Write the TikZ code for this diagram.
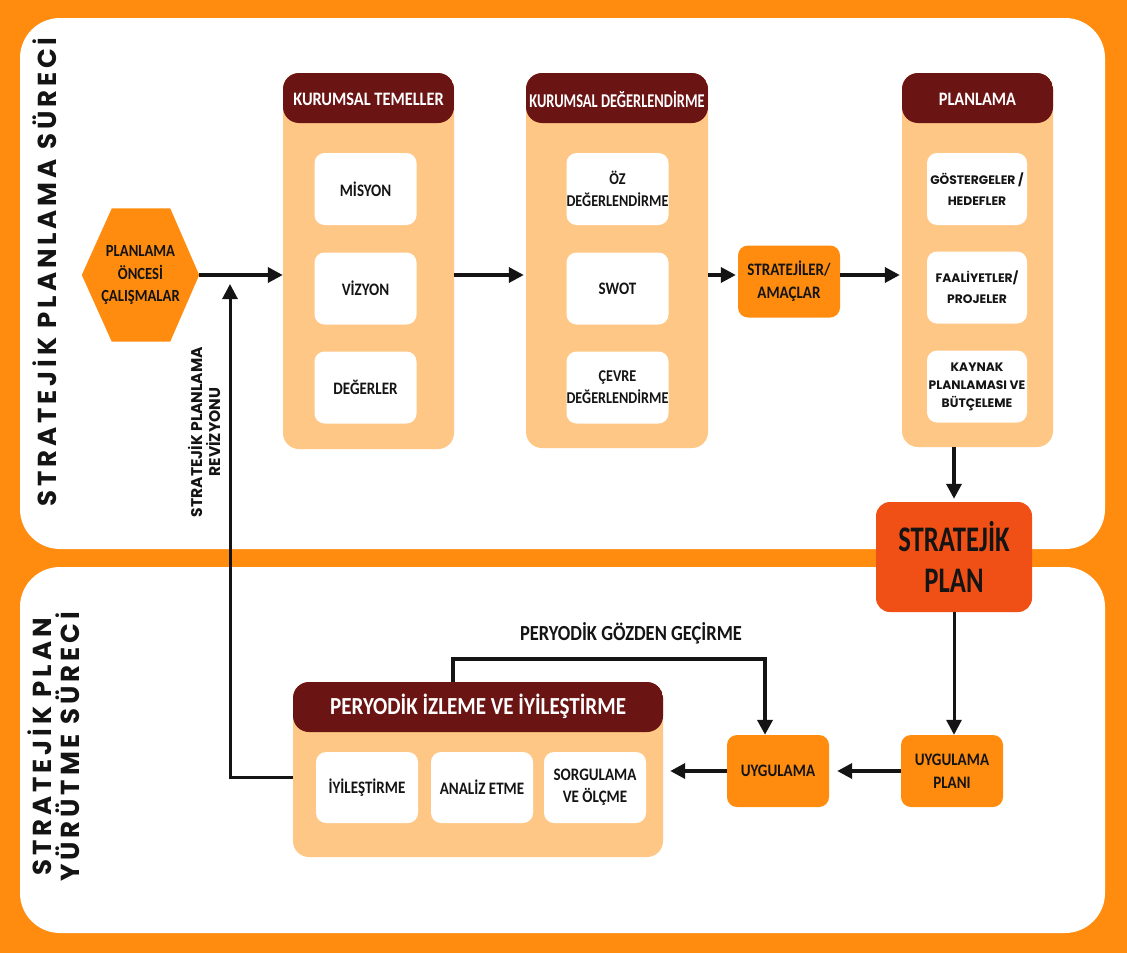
\documentclass[tikz,border=0pt]{standalone}
\usepackage{fontspec}
\setmainfont{Carlito}
\newfontfamily\cond{Carlito}[FakeStretch=0.86]
\newfontfamily\xcond{Carlito}[FakeStretch=0.74]
\newfontfamily\geo{Poppins}
\newfontfamily\geosp{Poppins}[LetterSpace=15]
\usetikzlibrary{arrows.meta,calc}
\definecolor{orng}{RGB}{255,140,15}
\definecolor{dkred}{RGB}{107,20,20}
\definecolor{lorng}{RGB}{255,199,133}
\definecolor{spred}{RGB}{240,80,22}
\definecolor{ink}{RGB}{20,20,20}
\tikzset{
  arr/.style={draw=ink, line width=3.5pt, -{Triangle[length=15pt,width=15pt]}},
  col/.style={fill=lorng, rounded corners=16pt, inner sep=0pt,
    path picture={\fill[dkred] (path picture bounding box.north west) rectangle ([yshift=-50pt]path picture bounding box.north east);}},
  hdr/.style={text=white, font=\cond\bfseries\fontsize{19}{22}\selectfont, inner sep=0pt},
  wbox/.style={fill=white, rounded corners=10pt, minimum width=102pt, minimum height=72pt, inner sep=0pt, align=center, text=ink, font=\cond\bfseries\fontsize{17.5}{22}\selectfont},
  dbox/.style={wbox, font=\cond\bfseries\fontsize{16.5}{22}\selectfont},
  gbox/.style={wbox, font=\geo\bfseries\fontsize{12.3}{21}\selectfont},
  obox/.style={fill=orng, rounded corners=10pt, minimum width=102pt, minimum height=72pt, inner sep=0pt, align=center, text=ink, font=\cond\bfseries\fontsize{17.5}{23}\selectfont},
  title/.style={text=ink, font=\geosp\bfseries\fontsize{26}{28}\selectfont, inner sep=0pt, align=center}
}
\begin{document}
\begin{tikzpicture}[x=1pt,y=-1pt]
\useasboundingbox (0,0) rectangle (1127,953);
\fill[orng] (0,0) rectangle (1127,953);
\fill[white, rounded corners=40pt] (20,18) rectangle (1105,549);
\fill[white, rounded corners=40pt] (20,567) rectangle (1105,933);

% titles
\node[title, rotate=90] (t1) at (45,272) {STRATEJİK PLANLAMA SÜRECİ};
\node[title, rotate=90] (t2) at (54,747) {STRATEJİK PLAN\\YÜRÜTME SÜRECİ};

% hexagon
\node[minimum width=117pt, minimum height=133pt, inner sep=0pt] (hex) at (140.5,275) {};
\fill[orng] (hex.west) -- ([xshift=30pt]hex.north west) -- ([xshift=-29pt]hex.north east) -- (hex.east)
  -- ([xshift=-29pt]hex.south east) -- ([xshift=30pt]hex.south west) -- cycle;
\node[align=center, text=ink, font=\cond\bfseries\fontsize{17}{22.5}\selectfont] (hext) at (hex.center) {PLANLAMA\\ÖNCESİ\\ÇALIŞMALAR};

% columns
\node[col, minimum width=171pt, minimum height=376pt] (kt) at (368.5,261) {};
\node[hdr] (kth) at ([yshift=-27pt]kt.north) {KURUMSAL TEMELLER};
\node[wbox] (mis) at (365.5,189) {MİSYON};
\node[wbox] (viz) at (365.5,288.5) {VİZYON};
\node[wbox] (deg) at (365.5,387.5) {DEĞERLER};

\node[col, minimum width=182pt, minimum height=375pt] (kd) at (617,260.5) {};
\node[hdr, font=\xcond\bfseries\fontsize{19.5}{22}\selectfont] (kdh) at ([yshift=-27pt]kd.north) {KURUMSAL DEĞERLENDİRME};
\node[dbox] (oz) at (617.5,189) {ÖZ\\DEĞERLENDİRME};
\node[wbox] (swot) at (617.5,288.5) {SWOT};
\node[dbox] (cev) at (617.5,387.5) {ÇEVRE\\DEĞERLENDİRME};

\node[obox] (sa) at (789,281.5) {STRATEJİLER/\\AMAÇLAR};

\node[col, minimum width=151pt, minimum height=374pt] (pl) at (977.5,260) {};
\node[hdr] (plh) at ([yshift=-27pt]pl.north) {PLANLAMA};
\node[gbox, minimum width=100pt] (gos) at (977,189) {GÖSTERGELER /\\HEDEFLER};
\node[gbox, minimum width=100pt] (faa) at (977,287.5) {FAALİYETLER/\\PROJELER};
\node[gbox, minimum width=100pt, font=\geo\bfseries\fontsize{12.3}{18}\selectfont] (kay) at (977,386.5) {KAYNAK\\PLANLAMASI VE\\BÜTÇELEME};

% strategic plan
\node[fill=spred, rounded corners=14pt, minimum width=156pt, minimum height=110pt, inner sep=0pt, align=center, text=ink,
  font=\xcond\bfseries\fontsize{36}{41}\selectfont] (sp) at (954,557) {STRATEJİK\\PLAN};

% lower part
\node[obox] (up) at (952,771) {UYGULAMA\\PLANI};
\node[obox] (uy) at (778,771) {UYGULAMA};
\node[col, minimum width=370pt, minimum height=175pt] (pi) at (478,769.5) {};
\node[hdr, font=\cond\bfseries\fontsize{24.5}{26}\selectfont] (pih) at ([yshift=-25pt]pi.north) {PERYODİK İZLEME VE İYİLEŞTİRME};
\node[wbox, minimum height=71pt] (iyi) at (367,787.5) {İYİLEŞTİRME};
\node[wbox, minimum height=71pt] (ana) at (482,787.5) {ANALİZ ETME};
\node[wbox, minimum height=71pt] (sor) at (595,787.5) {SORGULAMA\\VE ÖLÇME};

% connectors
\draw[arr] (hex.east) -- (hex.east -| kt.west);
\draw[arr] (kt.east |- hex.east) -- ([xshift=-2pt]kd.west |- hex.east);
\draw[arr] (kd.east |- hex.east) -- ([xshift=-2pt]sa.west |- hex.east);
\draw[arr] (sa.east |- hex.east) -- ([xshift=-2pt]pl.west |- hex.east);
\draw[arr] (sp.north |- pl.south) -- ([yshift=3pt]sp.north);
\draw[arr, line width=3pt] (sp.south) -- (sp.south |- up.north);
\draw[arr] (up.west) -- ([xshift=8pt]uy.east);
\draw[arr] (uy.west) -- ([xshift=7pt]uy.west -| pi.east);

\coordinate (loopc) at (610,659);
\draw[arr, line width=4pt] ([xshift=-25pt]pi.north) |- (loopc) -| ([xshift=-13pt]uy.north);
\node[text=ink, font=\cond\bfseries\fontsize{21.5}{24}\selectfont] (pgg) at (631,633) {PERYODİK GÖZDEN GEÇİRME};

\coordinate (rc) at (230,777);
\coordinate (revtip) at (230,284);
\draw[arr, line width=3pt] (pi.west |- rc) -- (rc) -- (revtip);
\node[rotate=90, align=center, text=ink, font=\geo\bfseries\fontsize{15.5}{18}\selectfont] (revl) at (204,432) {STRATEJİK PLANLAMA\\REVİZYONU};
\end{tikzpicture}
\end{document}
